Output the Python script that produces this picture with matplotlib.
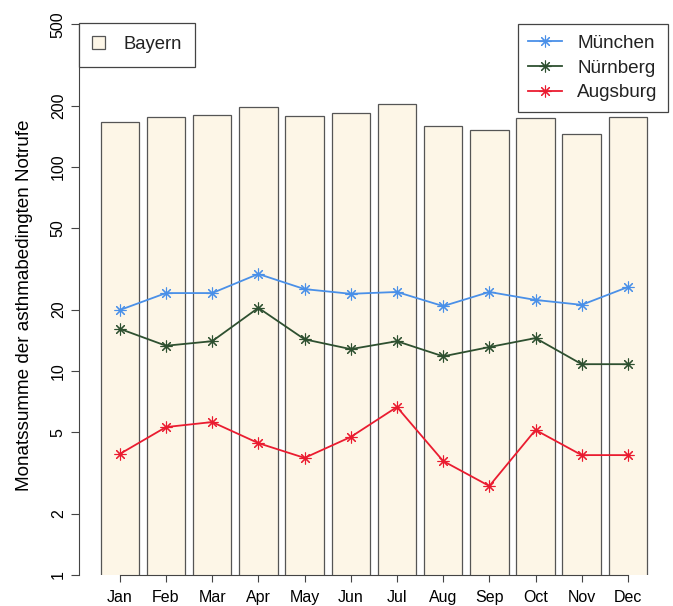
import numpy as np
import matplotlib.pyplot as plt

months = ["Jan", "Feb", "Mar", "Apr", "May", "Jun", "Jul", "Aug", "Sep", "Oct", "Nov", "Dec"]
bayern = [166, 176, 180, 197, 178, 184, 204, 159, 152, 174, 145, 176]
muenchen = [19.9, 24.1, 24.1, 29.9, 25.2, 23.9, 24.4, 20.8, 24.4, 22.3, 21.1, 25.8]
nuernberg = [16.1, 13.3, 14.0, 20.4, 14.3, 12.8, 14.0, 11.8, 13.1, 14.5, 10.8, 10.8]
augsburg = [3.92, 5.31, 5.62, 4.43, 3.75, 4.75, 6.66, 3.62, 2.73, 5.14, 3.87, 3.87]
yticks = [1, 2, 5, 10, 20, 50, 100, 200, 500]

plt.rcParams['font.family'] = ['Liberation Sans', 'DejaVu Sans']
plt.rcParams['text.color'] = '#222222'

fig = plt.figure(figsize=(6.73, 6.06), dpi=100)
ax = fig.add_axes([79/673, 31/606, 582/673, 553/606])

# barplot-like positions (width 1, space 0.2)
x = np.arange(len(months))*1.2 + 0.7

bars = ax.bar(x, bayern, width=1.0, bottom=0, color='#fdf6e7', edgecolor='#555555',
              linewidth=0.9, label='Bayern')

mk = (8, 2, 0)  # asterisk like pch=8
l1, = ax.plot(x, muenchen, color='#4a90e8', lw=1.3, marker=mk, ms=8.5, mew=0.8, label='München')
l2, = ax.plot(x, nuernberg, color='#2e5030', lw=1.3, marker=mk, ms=8.5, mew=0.8, label='Nürnberg')
l3, = ax.plot(x, augsburg, color='#ea1c30', lw=1.3, marker=mk, ms=8.5, mew=0.8, label='Augsburg')

ax.set_yscale('log')
ax.set_ylim(1, 10**(553/204))
ax.set_xlim(-0.36, 14.76)

ax.set_yticks(yticks)
ax.set_yticklabels([str(t) for t in yticks], rotation=90, va='center')
ax.yaxis.set_minor_locator(plt.NullLocator())
ax.set_xticks(x)
ax.set_xticklabels(months)
ax.tick_params(axis='y', length=5.5, width=0.8, pad=4, labelsize=11.5, color='#444444')
ax.tick_params(axis='x', length=5, width=0.8, pad=6, labelsize=11.5, color='#444444')

for s in ['top', 'right']:
    ax.spines[s].set_visible(False)
ax.spines['left'].set_bounds(1, 500)
ax.spines['bottom'].set_bounds(x[0], x[-1])
ax.spines['left'].set_color('#444444')
ax.spines['bottom'].set_color('#444444')
ax.spines['left'].set_linewidth(0.8)
ax.spines['bottom'].set_linewidth(0.8)

ax.set_ylabel('Monatssumme der asthmabedingten Notrufe', fontsize=13.6, va='center')
ax.yaxis.set_label_coords(-0.093, 0.488)

leg1 = ax.legend(handles=[bars], loc='upper left', bbox_to_anchor=(0.0, 0.998), borderaxespad=0,
                 fontsize=13.3, fancybox=False, edgecolor='#444444', framealpha=1,
                 handlelength=0.7, handleheight=0.7, handletextpad=1.0, borderpad=0.72)
leg1.get_frame().set_linewidth(0.9)
ax.add_artist(leg1)

leg2 = ax.legend(handles=[l1, l2, l3], loc='upper right', bbox_to_anchor=(1.012, 0.996), borderaxespad=0,
                 fontsize=13.6, fancybox=False, edgecolor='#444444', framealpha=1,
                 handlelength=1.8, handletextpad=0.8, borderpad=0.55, labelspacing=0.4)
leg2.get_frame().set_linewidth(0.9)

fig.savefig('out.png', dpi=100)
